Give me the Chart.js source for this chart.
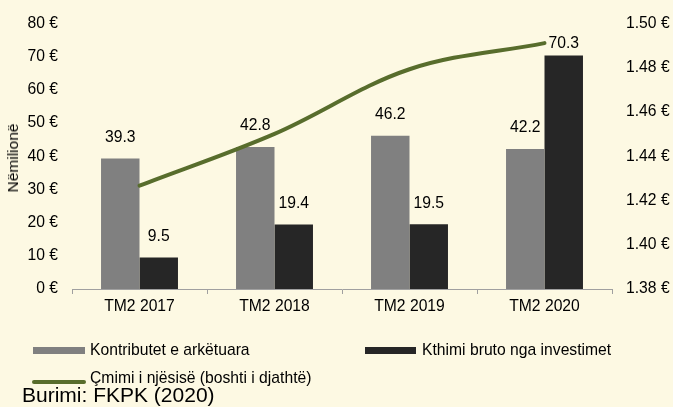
<!DOCTYPE html>
<html>
<head>
<meta charset="utf-8">
<script src="https://cdn.jsdelivr.net/npm/chart.js@4/dist/chart.umd.min.js"></script>
<style>
  html, body { margin: 0; padding: 0; background: #fdf9e3; }
  #wrap { position: relative; width: 673px; height: 407px; overflow: hidden; font-family: 'Liberation Sans', Arial, sans-serif; color: #000; }
  #chart { position: absolute; left: 0; top: 0; }
  .lg { position: absolute; font-size: 15.7px; line-height: 16px; white-space: nowrap; }
  .sw { position: absolute; }
  #src { position: absolute; left: 22px; top: 384px; font-size: 21px; line-height: 21px; white-space: nowrap; }
  #ytitle { position: absolute; left: 13px; top: 158px; font-size: 15.5px; transform: translate(-50%, -50%) rotate(-90deg); white-space: nowrap; }
</style>
</head>
<body>
<div id="wrap">
  <canvas id="chart" width="673" height="407"></canvas>
  <div id="ytitle">Nëmilionë</div>
  <div class="sw" style="left:33px;top:347px;width:52px;height:7px;background:#808080"></div>
  <div class="lg" style="left:90px;top:342px">Kontributet e arkëtuara</div>
  <div class="sw" style="left:365px;top:347px;width:51px;height:7px;background:#262626"></div>
  <div class="lg" style="left:422px;top:342px">Kthimi bruto nga investimet</div>
  <div class="sw" style="left:32px;top:380px;width:54px;height:4px;border-radius:2px;background:#586d2c"></div>
  <div class="lg" style="left:90px;top:370px">Çmimi i njësisë (boshti i djathtë)</div>
  <div id="src">Burimi: FKPK (2020)</div>
</div>
<script>
// data
const periods = ['TM2 2017', 'TM2 2018', 'TM2 2019', 'TM2 2020'];
const contributions = [39.3, 42.8, 46.2, 42.2];
const grossReturn = [9.5, 19.4, 19.5, 70.3];
const unitPrice = [1.4267, 1.4501, 1.4793, 1.4911];

Chart.defaults.font.family = "'Liberation Sans', Arial, sans-serif";
Chart.defaults.font.size = 15.7;
Chart.defaults.color = '#000';

// value labels above the bars
const barLabels = {
  id: 'barLabels',
  afterDatasetsDraw(chart) {
    const { ctx, chartArea } = chart;
    ctx.save();
    ctx.font = "15.7px 'Liberation Sans', Arial, sans-serif";
    ctx.fillStyle = '#000';
    ctx.textAlign = 'center';
    ctx.textBaseline = 'middle';
    chart.data.datasets.forEach((ds, i) => {
      if (ds.type !== 'bar') return;
      chart.getDatasetMeta(i).data.forEach((el, j) => {
        const y = Math.max(el.y - 21, chartArea.top + 20);
        ctx.fillText(ds.data[j].toFixed(1), el.x, y);
      });
    });
    ctx.restore();
  }
};

new Chart(document.getElementById('chart'), {
  data: {
    labels: periods,
    datasets: [
      {
        type: 'line',
        label: 'Çmimi i njësisë (boshti i djathtë)',
        data: unitPrice,
        yAxisID: 'y1',
        borderColor: '#586d2c',
        borderWidth: 4,
        borderCapStyle: 'round',
        pointRadius: 0,
        tension: 0.35,
        order: 0
      },
      {
        type: 'bar',
        label: 'Kontributet e arkëtuara',
        data: contributions,
        backgroundColor: '#808080',
        yAxisID: 'y',
        order: 1
      },
      {
        type: 'bar',
        label: 'Kthimi bruto nga investimet',
        data: grossReturn,
        backgroundColor: '#262626',
        yAxisID: 'y',
        order: 1
      }
    ]
  },
  options: {
    responsive: false,
    animation: false,
    layout: { padding: { top: 21, left: 0, right: 0, bottom: 0 } },
    plugins: { legend: { display: false }, tooltip: { enabled: false } },
    datasets: { bar: { categoryPercentage: 0.57, barPercentage: 1 } },
    scales: {
      x: {
        grid: { display: true, drawOnChartArea: false, drawTicks: true, tickLength: 5, color: '#a0a0a0', offset: true },
        border: { display: true, color: '#a0a0a0', width: 1 },
        ticks: { padding: 3, color: '#000' },
        afterFit(s) { s.height = 118; }
      },
      y: {
        position: 'left',
        min: 0, max: 80,
        ticks: { stepSize: 10, padding: 14, callback: v => v + ' €' },
        grid: { display: false, drawTicks: false },
        border: { display: false },
        afterFit(s) { s.width = 72; }
      },
      y1: {
        position: 'right',
        min: 1.38, max: 1.50,
        ticks: { stepSize: 0.02, padding: 14, callback: v => v.toFixed(2) + ' €' },
        grid: { display: false, drawTicks: false },
        border: { display: false },
        afterFit(s) { s.width = 61; }
      }
    }
  },
  plugins: [barLabels]
});
</script>
</body>
</html>
